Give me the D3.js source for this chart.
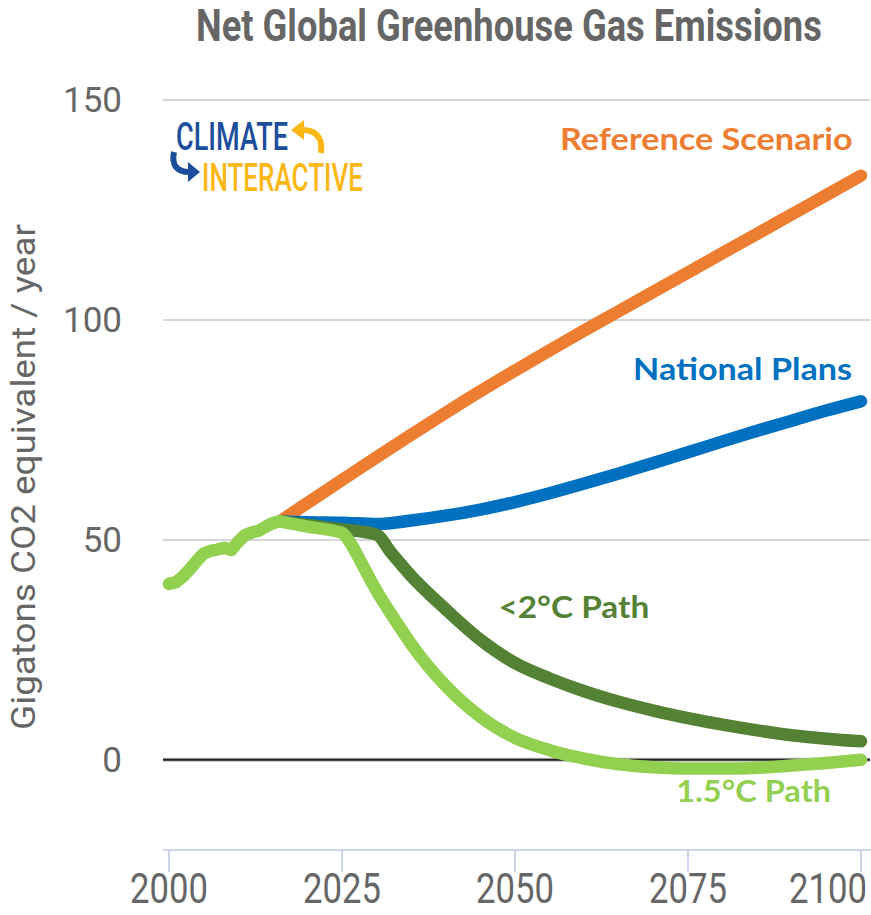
<!DOCTYPE html>
<html><head><meta charset="utf-8">
<script src="https://cdn.jsdelivr.net/npm/d3@7"></script>
<style>html,body{margin:0;padding:0;background:#fff;} svg{display:block;}</style>
</head><body>
<svg id="chart" width="871" height="915"></svg>
<script>
// ---------- DATA ----------
const histYears  = [2000,2001,2002,2003,2004,2005,2006,2007,2008,2009,2010,2011,2012,2013,2014,2015,2016];
const histValues = [40.0,40.4,41.6,43.3,45.2,46.9,47.5,47.8,48.2,47.7,49.6,51.1,51.7,52.1,53.0,53.8,54.2];

const refYears  = [2016,2020,2025,2030,2035,2040,2045,2050,2055,2060,2065,2070,2075,2080,2085,2090,2095,2100];
const refValues = [54.2,58.4,63.6,68.8,73.9,78.9,83.8,88.5,93.1,97.6,102.0,106.4,110.8,115.2,119.6,124.0,128.4,132.8];

const natYears  = [2016,2020,2025,2030,2035,2040,2045,2050,2055,2060,2065,2070,2075,2080,2085,2090,2095,2100];
const natValues = [54.2,54.0,53.9,53.6,54.4,55.5,56.9,58.6,60.6,62.8,65.1,67.5,69.9,72.4,74.8,77.1,79.4,81.5];

const twoYears  = [2016,2020,2025,2030,2032,2035,2040,2045,2050,2055,2060,2065,2070,2075,2080,2085,2090,2095,2100];
const twoValues = [54.2,53.4,52.4,51.2,47.3,41.8,34.2,27.3,22.0,18.5,15.6,13.2,11.2,9.5,8.0,6.7,5.6,4.8,4.2];

const oneYears  = [2016,2020,2025,2026,2028,2030,2033,2035,2040,2045,2050,2055,2060,2065,2070,2075,2080,2085,2090,2095,2100];
const oneValues = [54.2,53.0,51.6,49.8,44.2,38.4,31.0,26.3,16.8,9.8,5.0,2.2,0.3,-1.0,-1.7,-2.0,-2.0,-1.8,-1.3,-0.7,0.0];

const yTicks = [0, 50, 100, 150];
const xTicks = [2000, 2025, 2050, 2075, 2100];

const seriesNames  = ["Reference Scenario", "National Plans", "<2°C Path", "1.5°C Path"];
const seriesColors = ["#ED7D31", "#0070C0", "#548235", "#92D050"];

// ---------- SETUP ----------
const svg = d3.select("#chart");
const x = d3.scaleLinear().domain([2000, 2100]).range([169, 861]);
const y = d3.scaleLinear().domain([-20.5, 150]).range([850, 100]);
const gridL = 163, gridR = 870;
const grey = "#666666";

// draw a text fitted horizontally to a target width via a scale transform
function fitText(parent, str, px, py, width, anchor, styles) {
  const g = parent.append("g");
  const t = g.append("text").attr("x", 0).attr("y", 0).attr("text-anchor", anchor).text(str);
  Object.entries(styles).forEach(([k, v]) => t.style(k, v));
  const natural = t.node().getComputedTextLength();
  const sx = width / natural;
  g.attr("transform", `translate(${px},${py}) scale(${sx},1)`);
  return g;
}

// title
fitText(svg, "Net Global Greenhouse Gas Emissions", 196, 41, 626, "start",
  {"font-family": "Roboto, sans-serif", "font-weight": 700, "font-size": "44px", "fill": grey});

// gridlines
svg.append("g").selectAll("line").data(yTicks.filter(d => d !== 0)).join("line")
  .attr("x1", gridL).attr("x2", gridR)
  .attr("y1", d => y(d)).attr("y2", d => y(d))
  .attr("stroke", "#d6d6d6").attr("stroke-width", 2);

// y tick labels
svg.append("g").selectAll("text").data(yTicks).join("text")
  .attr("x", 122).attr("y", d => y(d) + 12)
  .attr("text-anchor", "end")
  .style("font-family", "Roboto, sans-serif").style("font-size", "35px")
  .style("fill", grey)
  .text(d => d);

// y axis title
const yTitle = svg.append("g").attr("transform", "translate(35,477) rotate(-90)");
fitText(yTitle, "Gigatons CO2 equivalent / year", 0, 0, 506, "middle",
  {"font-family": "Roboto, sans-serif", "font-size": "33px", "fill": grey});

// x axis line + ticks
svg.append("line").attr("x1", gridL).attr("x2", 871)
  .attr("y1", y(-20.5)).attr("y2", y(-20.5))
  .attr("stroke", "#ccd6eb").attr("stroke-width", 2);
svg.append("g").selectAll("line").data(xTicks).join("line")
  .attr("x1", d => x(d)).attr("x2", d => x(d))
  .attr("y1", y(-20.5)).attr("y2", y(-20.5) + 22)
  .attr("stroke", "#ccd6eb").attr("stroke-width", 2);
const xLab = svg.append("g");
xTicks.forEach(d => {
  fitText(xLab, String(d), d === 2100 ? 867 : x(d), 903, 78, d === 2100 ? "end" : "middle",
    {"font-family": "Roboto, sans-serif", "font-size": "43px", "fill": grey});
});

// zero line
svg.append("line").attr("x1", gridL).attr("x2", gridR)
  .attr("y1", y(0)).attr("y2", y(0))
  .attr("stroke", "#bbbbbb").attr("stroke-width", 4);
svg.append("line").attr("x1", gridL).attr("x2", gridR)
  .attr("y1", y(0)).attr("y2", y(0))
  .attr("stroke", "#222222").attr("stroke-width", 2);

// lines
const lineSmooth = d3.line().x(d => x(d[0])).y(d => y(d[1])).curve(d3.curveMonotoneX);
const lineStraight = d3.line().x(d => x(d[0])).y(d => y(d[1])).curve(d3.curveLinear);

const series = [
  {years: refYears, values: refValues},
  {years: natYears, values: natValues},
  {years: twoYears, values: twoValues},
  {years: oneYears, values: oneValues}
];
series.forEach((s, i) => {
  svg.append("path")
    .datum(s.years.map((yr, j) => [yr, s.values[j]]))
    .attr("d", lineSmooth)
    .attr("fill", "none").attr("stroke", seriesColors[i])
    .attr("stroke-width", 12.5).attr("stroke-linecap", "round").attr("stroke-linejoin", "round");
});
svg.append("path")
  .datum(histYears.map((yr, j) => [yr, histValues[j]]))
  .attr("d", lineStraight)
  .attr("fill", "none").attr("stroke", seriesColors[3])
  .attr("stroke-width", 12.5).attr("stroke-linecap", "round").attr("stroke-linejoin", "round");

// series labels
const labelYears  = [2098.8, 2098.7, 2047.6, 2073.3];
const labelValues = [138.6, 86.4, 32.3, -9.5];
const labelAnchors = ["end", "end", "start", "start"];
const labelWidths = [293, 219, 151, 155];
const labG = svg.append("g");
seriesNames.forEach((name, i) => {
  fitText(labG, name, x(labelYears[i]), y(labelValues[i]), labelWidths[i], labelAnchors[i],
    {"font-family": "Lato, sans-serif", "font-weight": 700, "font-size": "30px", "fill": seriesColors[i]});
});

// logo
const logo = svg.append("g");
fitText(logo, "CLIMATE", 176, 150, 112, "start",
  {"font-family": "Roboto, sans-serif", "font-weight": 500, "font-size": "39px", "fill": "#1C4E9B"});
fitText(logo, "INTERACTIVE", 202, 191, 161, "start",
  {"font-family": "Roboto, sans-serif", "font-weight": 500, "font-size": "39px", "fill": "#FDB714"});
logo.append("path").attr("d", "M321,153 C323,138 316,130 303,130")
  .attr("fill", "none").attr("stroke", "#FDB714").attr("stroke-width", 6);
logo.append("path").attr("d", "M291,130 L304,120 L304,140 Z").attr("fill", "#FDB714");
logo.append("path").attr("d", "M174,152 C171,166 178,172 189,172")
  .attr("fill", "none").attr("stroke", "#1C4E9B").attr("stroke-width", 6);
logo.append("path").attr("d", "M200,172 L188,162 L188,182 Z").attr("fill", "#1C4E9B");
</script>
</body></html>
